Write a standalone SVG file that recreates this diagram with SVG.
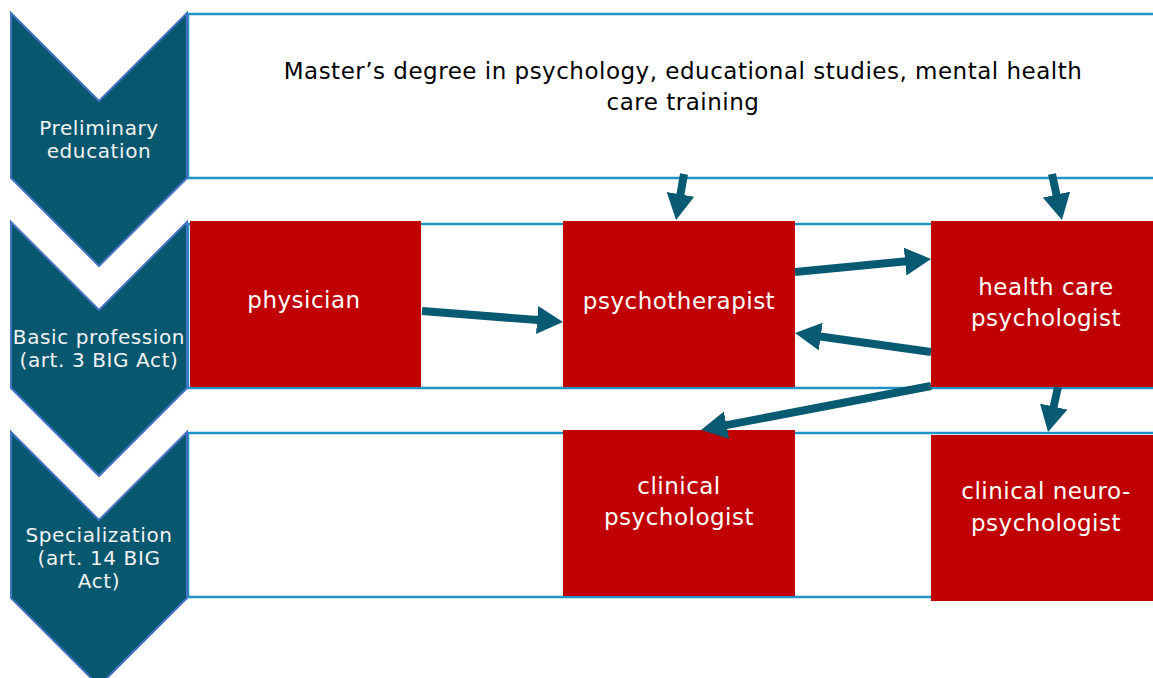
<svg xmlns="http://www.w3.org/2000/svg" width="1153" height="678" viewBox="0 0 1153 678">
<style>
.chev{fill:#07586f;stroke:#4472c4;stroke-width:2}
.band{fill:#ffffff;stroke:#2192c4;stroke-width:2.5}
.box{fill:#c00000}
.lbl{font-family:"DejaVu Sans",Verdana,sans-serif;font-size:20px;letter-spacing:0.6px;fill:#f2f2f2;text-anchor:middle}
.nlbl{font-family:"DejaVu Sans",Verdana,sans-serif;font-size:23px;letter-spacing:0.5px;fill:#ffffff;text-anchor:middle}
.top{font-family:"DejaVu Sans",Verdana,sans-serif;font-size:23px;letter-spacing:0.5px;fill:#000000;text-anchor:middle}
.arr{stroke:#085a73;stroke-width:8;fill:none;marker-end:url(#ah)}
</style>
<defs>
<marker id="ah" markerUnits="userSpaceOnUse" markerWidth="30" markerHeight="30" refX="4" refY="14" orient="auto">
<path d="M0,0 L26,14 L0,28 z" fill="#085a73"/>
</marker>
</defs>
<rect width="1153" height="678" fill="#ffffff"/>
<g id="bands">
<rect class="band" x="188" y="14" width="1000" height="164"/>
<rect class="band" x="188" y="224" width="1000" height="164"/>
<rect class="band" x="188" y="433" width="1000" height="164"/>
</g>
<g id="stage1">
<polygon class="chev" points="11,13 99,101 187,13 187,178 99,266 11,178"/>
<text class="lbl" x="99" y="135">Preliminary</text>
<text class="lbl" x="99" y="158">education</text>
</g>
<g id="stage2">
<polygon class="chev" points="11,222 99,310 187,222 187,388 99,476 11,388"/>
<text class="lbl" x="99" y="344">Basic profession</text>
<text class="lbl" x="99" y="367">(art. 3 BIG Act)</text>
</g>
<g id="stage3">
<polygon class="chev" points="11,432 99,520 187,432 187,598 99,686 11,598"/>
<text class="lbl" x="99" y="542">Specialization</text>
<text class="lbl" x="99" y="565">(art. 14 BIG</text>
<text class="lbl" x="99" y="588">Act)</text>
</g>
<g id="prelim-text">
<text class="top" x="683" y="79">Master’s degree in psychology, educational studies, mental health</text>
<text class="top" x="683" y="110">care training</text>
</g>
<g id="physician">
<rect class="box" x="190" y="221" width="231" height="166"/>
<text class="nlbl" x="304" y="308">physician</text>
</g>
<g id="psychotherapist">
<rect class="box" x="563" y="221" width="232" height="166"/>
<text class="nlbl" x="679" y="309">psychotherapist</text>
</g>
<g id="health-care-psychologist">
<rect class="box" x="931" y="221" width="222" height="166"/>
<text class="nlbl" x="1046" y="295">health care</text>
<text class="nlbl" x="1046" y="326">psychologist</text>
</g>
<g id="clinical-psychologist">
<rect class="box" x="563" y="430" width="232" height="166"/>
<text class="nlbl" x="679" y="494">clinical</text>
<text class="nlbl" x="679" y="525">psychologist</text>
</g>
<g id="clinical-neuropsychologist">
<rect class="box" x="931" y="435" width="222" height="166"/>
<text class="nlbl" x="1046" y="499">clinical neuro-</text>
<text class="nlbl" x="1046" y="531">psychologist</text>
</g>
<g id="connectors">
<line class="arr" x1="684" y1="174" x2="679.8" y2="198.3"/>
<line class="arr" x1="1052" y1="174" x2="1057.3" y2="198.5"/>
<line class="arr" x1="422" y1="311" x2="541.1" y2="320.3"/>
<line class="arr" x1="795" y1="272" x2="909.1" y2="261.1"/>
<line class="arr" x1="931" y1="352" x2="816.8" y2="336.0"/>
<line class="arr" x1="931" y1="386" x2="722.6" y2="425.9"/>
<line class="arr" x1="1058" y1="387" x2="1052.8" y2="410.5"/>
</g>
</svg>
